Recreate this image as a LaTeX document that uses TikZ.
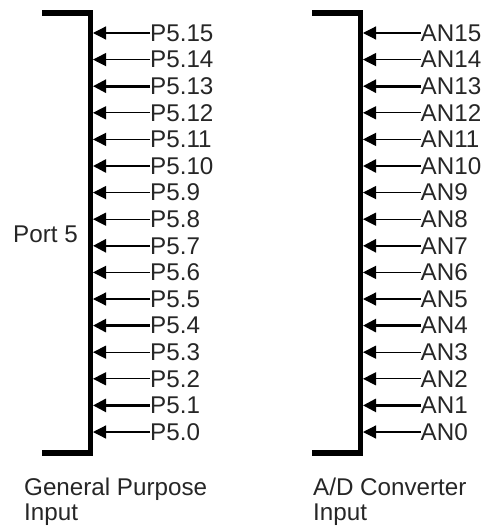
\documentclass[tikz,border=0pt]{standalone}
\usepackage{fontspec}
\setmainfont{Liberation Sans}
\usetikzlibrary{arrows.meta}
\tikzset{
  bus/.style={line width=5.5pt, line join=miter, line cap=butt},
  sig/.style={line width=1.2pt, -{Triangle[length=13pt,width=13pt]}},
  sigthick/.style={sig, line width=2.6pt},
  lbl/.style={inner sep=0pt, anchor=west, text=black!85, font=\fontsize{24.2}{25}\selectfont},
  captext/.style={inner sep=0pt, anchor=base west, align=left, text=black!85, font=\fontsize{24.2}{25}\selectfont},
}
\begin{document}
\begin{tikzpicture}[x=1pt,y=-1pt]
\useasboundingbox (0,0) rectangle (488,527);
% buses
\draw[bus] (42,13) -- (90.3,13) -- (90.3,453) -- (42,453);
\draw[bus] (312,13) -- (360.3,13) -- (360.3,453) -- (312,453);
% signals
\foreach \k in {0,...,15}{
  \pgfmathsetmacro{\yy}{33+(15-\k)*26.6}
  \coordinate (L\k) at (93,\yy);
  \coordinate (R\k) at (363,\yy);
  \node[lbl] (p\k) at (150,\yy) {P5.\k};
  \node[lbl] (a\k) at (420.5,\yy) {AN\k};
}
\foreach \k in {15,14,12,11,9,8,6,5,3,2,0}{
  \draw[sig] (p\k.west) -- (L\k);
  \draw[sig] (a\k.west) -- (R\k);
}
\foreach \k in {13,10,7,4,1}{
  \draw[sigthick] (p\k.west) -- (L\k);
  \draw[sigthick] (a\k.west) -- (R\k);
}
\node[lbl, anchor=east] (port) at (78,234) {Port 5};
\node[captext] (gp) at (24,520) {General Purpose\\Input};
\node[captext] (ad) at (313,520) {A/D Converter\\Input};
\end{tikzpicture}
\end{document}
